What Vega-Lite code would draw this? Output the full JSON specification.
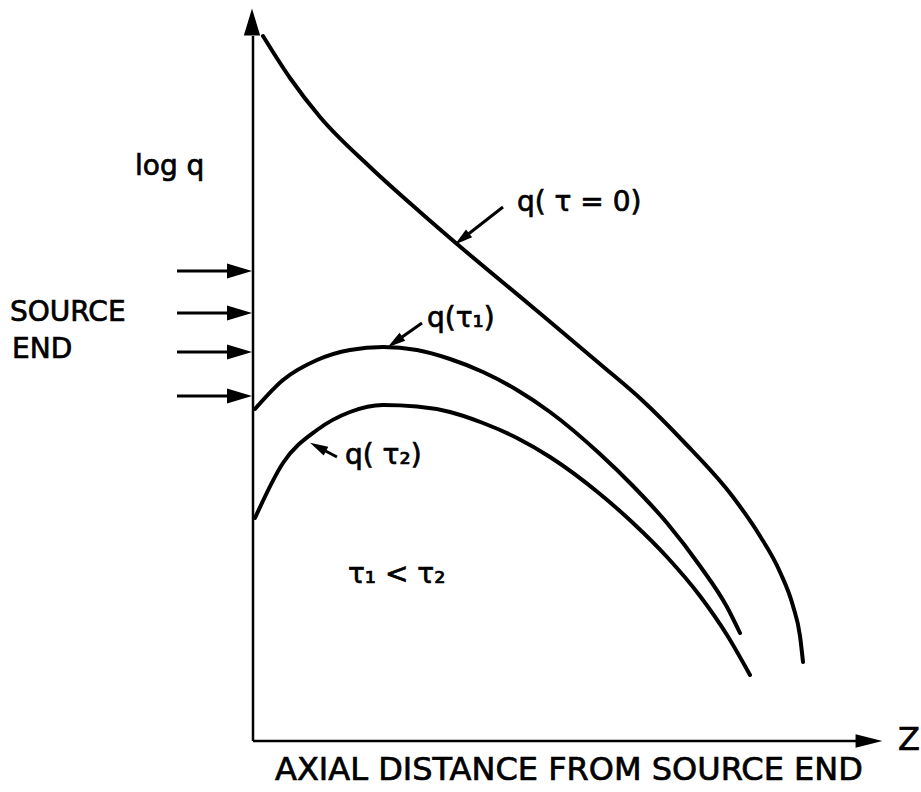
{
  "$schema": "https://vega.github.io/schema/vega-lite/v6.json",
  "width": 921,
  "height": 792,
  "autosize": {"type": "fit", "contains": "padding"},
  "padding": 0,
  "background": "white",
  "config": {
    "view": {"stroke": null},
    "text": {"font": "DejaVu Sans", "color": "black", "stroke": "black", "strokeWidth": 0.7}
  },
  "datasets": {
    "axes": [
      {"z": -0.1, "logq": -0.1, "z2": -0.1, "logq2": 70.4},
      {"z": -0.1, "logq": -0.1, "z2": 60.4, "logq2": -0.1}
    ],
    "axisHeadUp": [{"z": -0.2, "logq": 71.8}],
    "axisHeadRight": [{"z": 61.5, "logq": -0.1}],
    "source": [
      {"z": -7.7, "z2": -1.9, "logq": 46.9},
      {"z": -7.7, "z2": -1.9, "logq": 42.7},
      {"z": -7.7, "z2": -1.9, "logq": 38.8},
      {"z": -7.7, "z2": -1.9, "logq": 34.4}
    ],
    "sourceHeads": [
      {"z": -1.45, "logq": 46.9},
      {"z": -1.45, "logq": 42.7},
      {"z": -1.45, "logq": 38.8},
      {"z": -1.45, "logq": 34.4}
    ],
    "curves": [
      {"curve": "tau0", "z": 0.9, "logq": 70.4},
      {"curve": "tau0", "z": 3.6, "logq": 66.2},
      {"curve": "tau0", "z": 6.6, "logq": 62.3},
      {"curve": "tau0", "z": 11.6, "logq": 57.3},
      {"curve": "tau0", "z": 16.6, "logq": 52.8},
      {"curve": "tau0", "z": 20.3, "logq": 49.6},
      {"curve": "tau0", "z": 27.6, "logq": 43.5},
      {"curve": "tau0", "z": 34.6, "logq": 37.6},
      {"curve": "tau0", "z": 38.9, "logq": 33.9},
      {"curve": "tau0", "z": 42.9, "logq": 29.9},
      {"curve": "tau0", "z": 47.9, "logq": 24.3},
      {"curve": "tau0", "z": 50.6, "logq": 20.4},
      {"curve": "tau0", "z": 52.6, "logq": 16.8},
      {"curve": "tau0", "z": 53.9, "logq": 13.4},
      {"curve": "tau0", "z": 54.6, "logq": 10.4},
      {"curve": "tau0", "z": 54.9, "logq": 7.8},

      {"curve": "tau1", "z": 0.1, "logq": 33.1},
      {"curve": "tau1", "z": 2.9, "logq": 36.0},
      {"curve": "tau1", "z": 6.3, "logq": 38.0},
      {"curve": "tau1", "z": 9.6, "logq": 39.0},
      {"curve": "tau1", "z": 12.9, "logq": 39.3},
      {"curve": "tau1", "z": 16.3, "logq": 39.0},
      {"curve": "tau1", "z": 19.6, "logq": 38.1},
      {"curve": "tau1", "z": 22.9, "logq": 36.8},
      {"curve": "tau1", "z": 26.3, "logq": 35.0},
      {"curve": "tau1", "z": 29.6, "logq": 32.8},
      {"curve": "tau1", "z": 34.6, "logq": 28.6},
      {"curve": "tau1", "z": 37.9, "logq": 25.4},
      {"curve": "tau1", "z": 41.3, "logq": 21.7},
      {"curve": "tau1", "z": 44.6, "logq": 17.4},
      {"curve": "tau1", "z": 47.3, "logq": 13.3},
      {"curve": "tau1", "z": 48.6, "logq": 10.7},

      {"curve": "tau2", "z": 0.1, "logq": 22.2},
      {"curve": "tau2", "z": 2.9, "logq": 27.7},
      {"curve": "tau2", "z": 6.3, "logq": 31.0},
      {"curve": "tau2", "z": 9.6, "logq": 32.8},
      {"curve": "tau2", "z": 12.9, "logq": 33.5},
      {"curve": "tau2", "z": 16.3, "logq": 33.35},
      {"curve": "tau2", "z": 19.6, "logq": 32.8},
      {"curve": "tau2", "z": 22.9, "logq": 31.7},
      {"curve": "tau2", "z": 26.3, "logq": 30.2},
      {"curve": "tau2", "z": 29.6, "logq": 28.3},
      {"curve": "tau2", "z": 34.6, "logq": 24.6},
      {"curve": "tau2", "z": 37.9, "logq": 21.7},
      {"curve": "tau2", "z": 41.3, "logq": 18.3},
      {"curve": "tau2", "z": 44.6, "logq": 14.4},
      {"curve": "tau2", "z": 47.3, "logq": 10.5},
      {"curve": "tau2", "z": 49.6, "logq": 6.5}
    ],
    "leaders": [
      {"z": 24.9, "logq": 53.3, "z2": 20.8, "logq2": 50.1},
      {"z": 16.8, "logq": 41.7, "z2": 14.1, "logq2": 39.8},
      {"z": 8.3, "logq": 28.3, "z2": 6.4, "logq2": 29.3}
    ],
    "leaderHeads": [
      {"z": 20.8, "logq": 50.1, "heading": 141.6},
      {"z": 14.1, "logq": 39.8, "heading": 144.8},
      {"z": 6.4, "logq": 29.3, "heading": 207.4}
    ],
    "labels": [
      {"z": -11.9, "logq": 57.3, "text": "log q"},
      {"z": -24.4, "logq": 42.7, "text": "SOURCE"},
      {"z": -24.2, "logq": 39.0, "text": "END"},
      {"z": 26.3, "logq": 53.7, "text": "q( τ = 0)"},
      {"z": 17.3, "logq": 42.1, "text": "q(τ₁)"},
      {"z": 9.1, "logq": 28.4, "text": "q( τ₂)"},
      {"z": 9.4, "logq": 16.5, "text": "τ₁ < τ₂"}
    ],
    "axisLabels": [
      {"z": 2.1, "logq": -3.0, "text": "AXIAL DISTANCE FROM SOURCE END"},
      {"z": 64.4, "logq": 0.0, "text": "Z"}
    ]
  },
  "encoding": {
    "x": {"field": "z", "type": "quantitative", "axis": null,
          "scale": {"domain": [-25.4, 66.7], "nice": false, "zero": false}},
    "y": {"field": "logq", "type": "quantitative", "axis": null,
          "scale": {"domain": [-5.2, 74], "nice": false, "zero": false}}
  },
  "layer": [
    {
      "data": {"name": "axes"},
      "mark": {"type": "rule", "color": "black", "strokeWidth": 2.5},
      "encoding": {"x2": {"field": "z2"}, "y2": {"field": "logq2"}}
    },
    {
      "data": {"name": "axisHeadUp"},
      "mark": {"type": "point", "shape": "M1,0L-1,-0.6L-1,0.6Z", "filled": true,
               "color": "black", "opacity": 1, "size": 740, "angle": 270}
    },
    {
      "data": {"name": "axisHeadRight"},
      "mark": {"type": "point", "shape": "M1,0L-1,-0.5L-1,0.5Z", "filled": true,
               "color": "black", "opacity": 1, "size": 720}
    },
    {
      "data": {"name": "source"},
      "mark": {"type": "rule", "color": "black", "strokeWidth": 3},
      "encoding": {"x2": {"field": "z2"}}
    },
    {
      "data": {"name": "sourceHeads"},
      "mark": {"type": "point", "shape": "M1,0L-1,-0.6L-1,0.6Z", "filled": true,
               "color": "black", "opacity": 1, "size": 625}
    },
    {
      "data": {"name": "curves"},
      "mark": {"type": "line", "color": "black", "strokeWidth": 4,
               "interpolate": "monotone", "strokeCap": "round"},
      "encoding": {"detail": {"field": "curve", "type": "nominal"}}
    },
    {
      "data": {"name": "leaders"},
      "mark": {"type": "rule", "color": "black", "strokeWidth": 3},
      "encoding": {"x2": {"field": "z2"}, "y2": {"field": "logq2"}}
    },
    {
      "data": {"name": "leaderHeads"},
      "mark": {"type": "point", "shape": "M1,0L-1,-0.55L-1,0.55Z", "filled": true,
               "color": "black", "opacity": 1, "size": 324},
      "encoding": {"angle": {"field": "heading", "type": "quantitative", "scale": null}}
    },
    {
      "data": {"name": "labels"},
      "mark": {"type": "text", "align": "left", "baseline": "middle", "fontSize": 28},
      "encoding": {"text": {"field": "text"}}
    },
    {
      "data": {"name": "axisLabels"},
      "mark": {"type": "text", "align": "left", "baseline": "middle", "fontSize": 32},
      "encoding": {"text": {"field": "text"}}
    }
  ]
}
